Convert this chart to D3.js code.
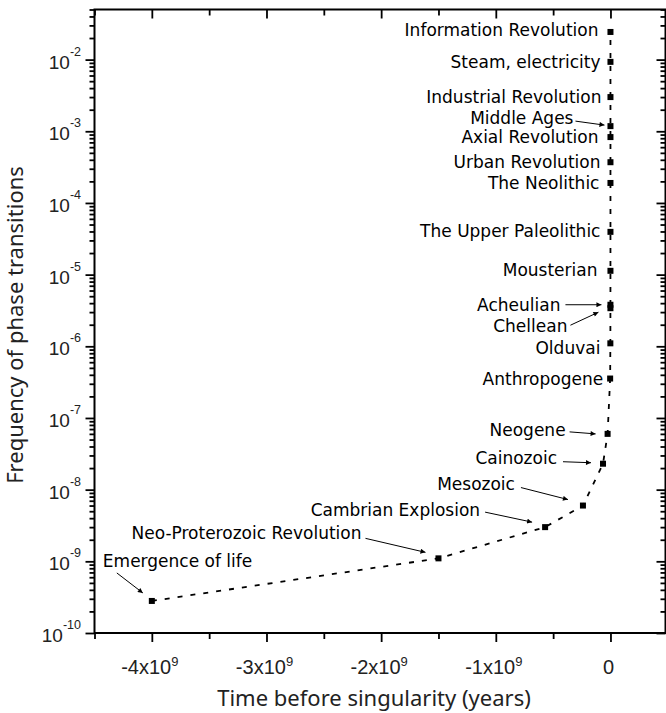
<!DOCTYPE html>
<html><head><meta charset="utf-8">
<script src="https://cdn.jsdelivr.net/npm/d3@7"></script>
<style>body{margin:0;background:#fff}</style>
</head><body>
<svg id="c" width="666" height="713"></svg>
<script>
// ---- data ----
const events = ["Emergence of life","Neo-Proterozoic Revolution","Cambrian Explosion","Mesozoic","Cainozoic","Neogene","Anthropogene","Olduvai","Chellean","Acheulian","Mousterian","The Upper Paleolithic","The Neolithic","Urban Revolution","Axial Revolution","Middle Ages","Industrial Revolution","Steam, electricity","Information Revolution"];
const years = [-4.0e9,-1.5e9,-5.7e8,-2.4e8,-6.5e7,-2.5e7,-2.8e6,-9.0e5,-3.0e5,-2.6e5,-9.0e4,-2.5e4,-5.0e3,-2.7e3,-1.2e3,-8.5e2,-3.3e2,-1.1e2,-4.0e1];
const frequency = [2.8e-10,1.1e-9,3.0e-9,6.0e-9,2.3e-8,6.0e-8,3.55e-7,1.1e-6,3.4e-6,3.8e-6,1.13e-5,3.95e-5,1.9e-4,3.7e-4,8.3e-4,1.18e-3,3.0e-3,9.3e-3,2.43e-2];
const xTickValues = [-4e9,-3e9,-2e9,-1e9,0];
const xTickBase = ["-4x10","-3x10","-2x10","-1x10","0"];
const xTickExp = ["9","9","9","9",""];
const yTickExp = [-10,-9,-8,-7,-6,-5,-4,-3,-2];
const xTitle = "Time before singularity (years)";
const yTitle = "Frequency of phase transitions";

// ---- label layout (pixel offsets from the point) ----
const labelLayout = [
 {a:"start",dx:-49,dy:-40,arr:[-35,-28,-9,-8]},
 {a:"end",dx:-77,dy:-25,arr:[-73,-20,-13,-6]},
 {a:"end",dx:-65,dy:-17,arr:[-60,-15,-13,-5]},
 {a:"end",dx:-68,dy:-22,arr:[-62,-18,-15,-6]},
 {a:"end",dx:-46,dy:-6,arr:[-40,-2,-12,-1]},
 {a:"end",dx:-42,dy:-4,arr:[-38,-2,-12,0]},
 {a:"end",dx:-7,dy:0},
 {a:"end",dx:-10,dy:5},
 {a:"end",dx:-43,dy:18,arr:[-40,17,-12,4]},
 {a:"end",dx:-50,dy:0,arr:[-45,0,-9,0]},
 {a:"end",dx:-13,dy:-1},
 {a:"end",dx:-10,dy:-1},
 {a:"end",dx:-11,dy:0},
 {a:"end",dx:-10,dy:0},
 {a:"end",dx:-12,dy:0},
 {a:"end",dx:-37,dy:-8,arr:[-35,-5,-6,-1]},
 {a:"end",dx:-9,dy:0},
 {a:"end",dx:-10,dy:0},
 {a:"end",dx:-12,dy:-2}
];

const svg = d3.select("#c");
const L=94.5, R=665.5, T=9.5, B=633;
const x = d3.scaleLinear().domain([-4.5e9,0.48e9]).range([L,R]);
const y = d3.scaleLog().domain([1e-10,5e-2]).range([B,T]);

const defs = svg.append("defs");
defs.append("marker").attr("id","ah").attr("viewBox","0 0 10 10").attr("refX",10).attr("refY",5)
 .attr("markerWidth",7).attr("markerHeight",5).attr("markerUnits","userSpaceOnUse").attr("orient","auto")
 .append("path").attr("d","M0,0L10,5L0,10z").attr("fill","#000");

const yMajor = yTickExp.map(e=>Math.pow(10,e));
const yMinor = [];
for (let e=-10;e<=-2;e++) for (let k=2;k<=9;k++){const v=k*Math.pow(10,e); if(v<=5e-2) yMinor.push(v);}
const xMinor = [-4.5e9,-3.5e9,-2.5e9,-1.5e9,-0.5e9];

function styleAxis(g){g.select(".domain").remove(); g.selectAll("line").attr("stroke","#000").attr("stroke-width",1.8);}

svg.append("g").attr("transform",`translate(${L},0)`).call(d3.axisLeft(y).tickValues(yMajor).tickSize(9).tickFormat("")).call(styleAxis);
svg.append("g").attr("transform",`translate(${L},0)`).call(d3.axisLeft(y).tickValues(yMinor).tickSize(5).tickFormat("")).call(styleAxis);
svg.append("g").attr("transform",`translate(${R},0)`).call(d3.axisRight(y).tickValues(yMajor).tickSize(-9).tickFormat("")).call(styleAxis);
svg.append("g").attr("transform",`translate(${R},0)`).call(d3.axisRight(y).tickValues(yMinor).tickSize(-5).tickFormat("")).call(styleAxis);
svg.append("g").attr("transform",`translate(0,${B})`).call(d3.axisBottom(x).tickValues(xTickValues).tickSize(9).tickFormat("")).call(styleAxis);
svg.append("g").attr("transform",`translate(0,${B})`).call(d3.axisBottom(x).tickValues(xMinor).tickSize(6).tickFormat("")).call(styleAxis);
svg.append("g").attr("transform",`translate(0,${T})`).call(d3.axisTop(x).tickValues(xTickValues).tickSize(-9).tickFormat("")).call(styleAxis);
svg.append("g").attr("transform",`translate(0,${T})`).call(d3.axisTop(x).tickValues(xMinor).tickSize(-6).tickFormat("")).call(styleAxis);

svg.append("rect").attr("x",L).attr("y",T).attr("width",R-L).attr("height",B-T)
 .attr("fill","none").attr("stroke","#000").attr("stroke-width",2);

const tickFont = "'Liberation Sans', Arial, sans-serif";
yTickExp.forEach((e,i)=>{
  const t = svg.append("text").attr("x",81).attr("y",y(yMajor[i])+9).attr("text-anchor","end")
    .attr("font-family",tickFont).attr("font-size",19).attr("fill","#222");
  t.append("tspan").text("10");
  t.append("tspan").attr("dy",-13).attr("font-size",12.5).text(String(e));
});
xTickValues.forEach((v,i)=>{
  const t = svg.append("text").attr("x",x(v)-2).attr("y",674).attr("text-anchor","middle")
    .attr("font-family",tickFont).attr("font-size",20).attr("fill","#222");
  t.append("tspan").text(xTickBase[i]);
  if (xTickExp[i]) t.append("tspan").attr("dy",-8.5).attr("font-size",13).text(xTickExp[i]);
});

svg.append("text").attr("x",374).attr("y",706).attr("text-anchor","middle")
 .attr("font-family","'Noto Sans', sans-serif").attr("font-size",22).attr("fill","#222").text(xTitle);
svg.append("text").attr("transform",`translate(23,325) rotate(-90)`).attr("text-anchor","middle")
 .attr("font-family","'Noto Sans', sans-serif").attr("font-size",22).attr("fill","#222").text(yTitle);

const pts = years.map((v,i)=>[x(v),y(frequency[i])]);
svg.append("path").attr("d",d3.line()(pts)).attr("fill","none").attr("stroke","#000")
 .attr("stroke-width",1.8).attr("stroke-dasharray","5,8");
svg.append("g").selectAll("rect").data(pts).join("rect")
 .attr("x",d=>d[0]-3).attr("y",d=>d[1]-3).attr("width",6).attr("height",6).attr("fill","#000");

const ann = svg.append("g").attr("font-family","'DejaVu Sans', sans-serif").attr("font-size",17).attr("fill","#000");
events.forEach((name,i)=>{
  const [px,py]=pts[i], lay=labelLayout[i];
  ann.append("text").attr("x",px+lay.dx).attr("y",py+lay.dy).attr("dy","0.36em")
    .attr("text-anchor",lay.a).text(name);
  if (lay.arr){
    ann.append("line").attr("x1",px+lay.arr[0]).attr("y1",py+lay.arr[1]).attr("x2",px+lay.arr[2]).attr("y2",py+lay.arr[3])
      .attr("stroke","#000").attr("stroke-width",1).attr("marker-end","url(#ah)");
  }
});
</script>
</body></html>
